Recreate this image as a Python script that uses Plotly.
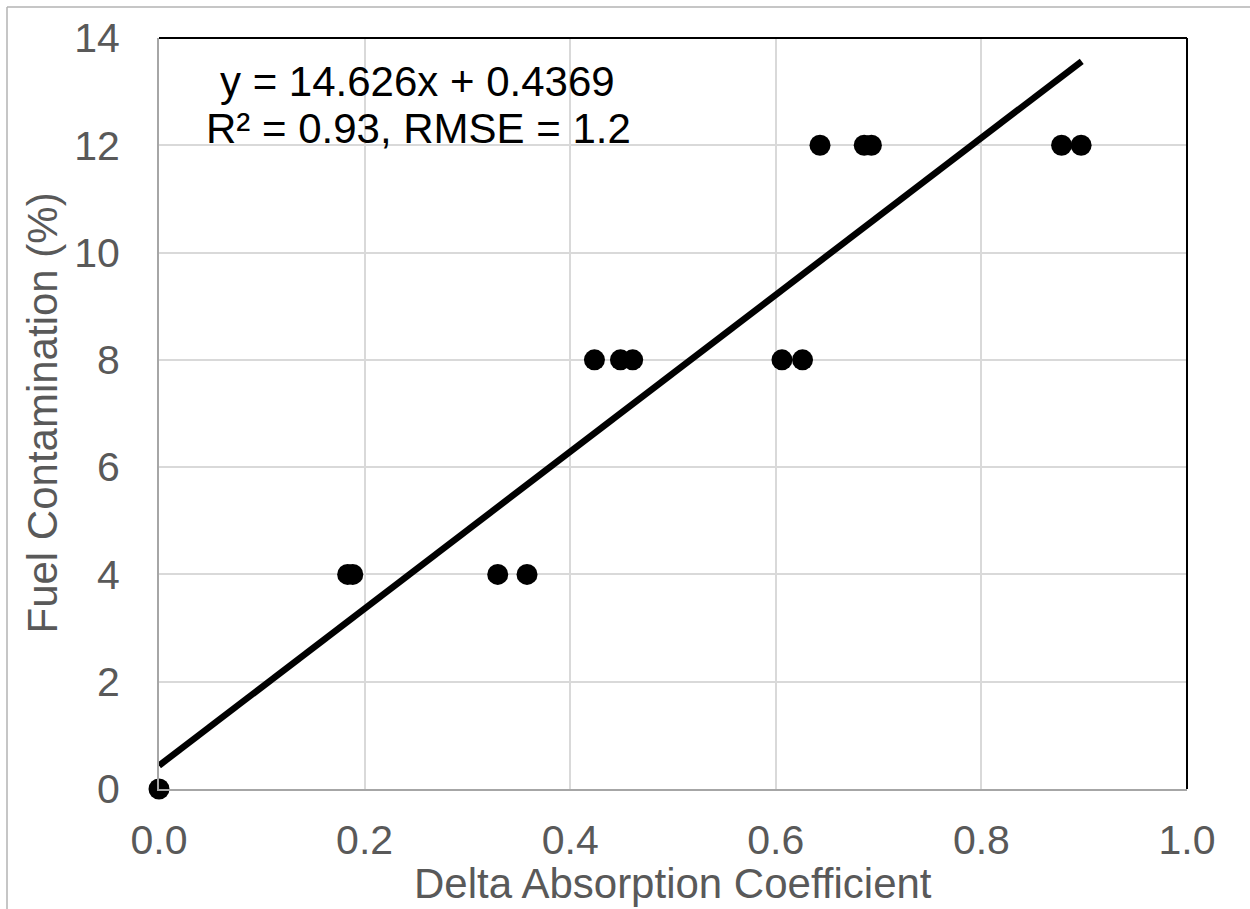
import plotly.graph_objects as go

# Data
delta_abs = [0.0, 0.1835, 0.1885, 0.3295, 0.358,
             0.4236, 0.4489, 0.4608, 0.606, 0.626,
             0.643, 0.686, 0.693, 0.878, 0.897]
fuel_pct = [0, 4, 4, 4, 4,
            8, 8, 8, 8, 8,
            12, 12, 12, 12, 12]

slope = 14.626
intercept = 0.4369
trend_x = [0.0, 0.8976]
trend_y = [slope * v + intercept for v in trend_x]

x_ticks = [0.0, 0.2, 0.4, 0.6, 0.8, 1.0]
y_ticks = [0, 2, 4, 6, 8, 10, 12, 14]

FONT = "Liberation Sans, Arial, sans-serif"
W, H = 1250, 909
L, R, T, B = 159, 63, 38, 120

fig = go.Figure()
fig.add_trace(go.Scatter(x=delta_abs, y=fuel_pct, mode="markers",
                         marker=dict(color="black", size=21, line=dict(width=0)),
                         showlegend=False, cliponaxis=False))
fig.add_trace(go.Scatter(x=trend_x, y=trend_y, mode="lines",
                         line=dict(color="black", width=6.5),
                         showlegend=False))

pw = W - L - R
ph = H - T - B
def px2x(px):
    return (px - L) / pw
def py2y(py):
    return (H - B - py) / ph

fig.update_layout(
    width=W, height=H,
    margin=dict(l=L, r=R, t=T, b=B, autoexpand=False),
    paper_bgcolor="white", plot_bgcolor="white",
    font=dict(family=FONT, color="#595959"),
    xaxis=dict(range=[0, 1], tickvals=x_ticks, ticktext=[f"{v:.1f}" for v in x_ticks],
               showgrid=True, gridcolor="#d9d9d9", gridwidth=1.5,
               showline=True, linecolor="#a6a6a6", linewidth=2,
               zeroline=False, ticks="", tickfont=dict(size=41, color="#595959"),
               ticklabelstandoff=14, automargin=False),
    yaxis=dict(range=[0, 14], tickvals=y_ticks,
               showgrid=True, gridcolor="#d9d9d9", gridwidth=1.5,
               showline=True, linecolor="#a6a6a6", linewidth=2,
               zeroline=False, ticks="", tickfont=dict(size=41, color="#595959"),
               ticklabelstandoff=29, automargin=False),
    shapes=[
        # top and right black frame edges
        dict(type="line", xref="paper", yref="paper", x0=0, x1=1, y0=1, y1=1,
             line=dict(color="black", width=2)),
        dict(type="line", xref="paper", yref="paper", x0=1, x1=1, y0=0, y1=1,
             line=dict(color="black", width=2)),
        # outer chart border (left and top)
        dict(type="line", xref="paper", yref="paper", x0=px2x(7), x1=px2x(7),
             y0=py2y(7), y1=py2y(912), line=dict(color="#b3b3b3", width=1.5)),
        dict(type="line", xref="paper", yref="paper", x0=px2x(7), x1=px2x(1255),
             y0=py2y(7), y1=py2y(7), line=dict(color="#b3b3b3", width=1.5)),
    ],
    annotations=[
        dict(text="y = 14.626x + 0.4369", xref="paper", yref="paper",
             x=px2x(417), y=py2y(82), xanchor="center", yanchor="middle",
             showarrow=False, font=dict(size=42, color="black", family=FONT)),
        dict(text="R² = 0.93, RMSE = 1.2", xref="paper", yref="paper",
             x=px2x(418), y=py2y(129), xanchor="center", yanchor="middle",
             showarrow=False, font=dict(size=42, color="black", family=FONT)),
        # axis titles
        dict(text="Delta Absorption Coefficient", xref="paper", yref="paper",
             x=0.5, y=py2y(884), xanchor="center", yanchor="middle",
             showarrow=False, font=dict(size=42, color="#595959", family=FONT)),
        dict(text="Fuel Contamination (%)", xref="paper", yref="paper",
             x=px2x(42), y=0.5, xanchor="center", yanchor="middle", textangle=-90,
             showarrow=False, font=dict(size=42, color="#595959", family=FONT)),
    ],
)

fig.write_html("out.html", config={"displayModeBar": False},
               post_script="document.body.style.margin='0';")
